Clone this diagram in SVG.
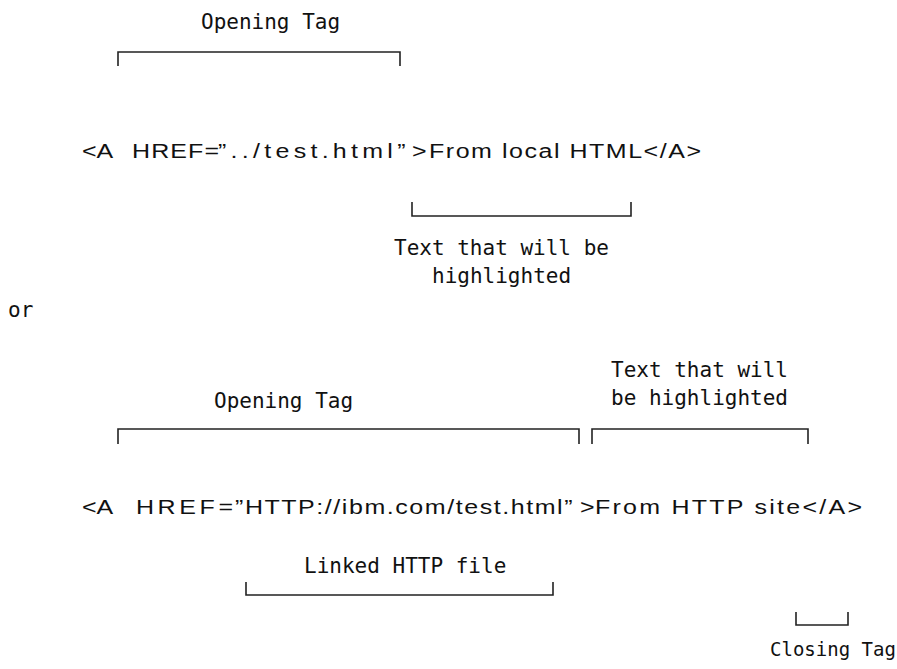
<svg xmlns="http://www.w3.org/2000/svg" width="897" height="669" viewBox="0 0 897 669">
<style>
.mono{font-family:"DejaVu Sans Mono","Liberation Mono",monospace;font-size:21px;fill:#111}
.code{font-family:"Liberation Sans",Arial,sans-serif;font-size:20px;fill:#111}
.br{fill:none;stroke:#222;stroke-width:1.6}
</style>
<rect width="897" height="669" fill="#fff"/>
<g id="connectors">
<path class="br" d="M118,66 V52 H400 V66"/>
<path class="br" d="M412,202 V216 H631 V202"/>
<path class="br" d="M118,444 V429 H579 V444"/>
<path class="br" d="M592,444 V429 H808 V444"/>
<path class="br" d="M246,582 V595 H553 V582"/>
<path class="br" d="M796,612 V625 H848 V612"/>
</g>
<g id="label-opening-tag-1"><text class="mono" x="201" y="29">Opening Tag</text></g>
<g id="code-line-1" transform="scale(1.25,1)">
<text class="code" x="65.6" y="158">&lt;A</text>
<text class="code" x="105.6" y="158" textLength="69.6" lengthAdjust="spacing">HREF=</text>
<text class="code" x="174.4" y="158" textLength="150" lengthAdjust="spacing">”../test.html”</text>
<text class="code" x="329.6" y="158" font-size="17">&gt;</text>
<text class="code" x="343.2" y="158" textLength="217.6" lengthAdjust="spacing">From local HTML&lt;/A&gt;</text>
</g>
<g id="label-highlight-1">
<text class="mono" x="394" y="255">Text that will be</text>
<text class="mono" x="432" y="283">highlighted</text>
</g>
<g id="label-or"><text class="mono" x="8" y="317">or</text></g>
<g id="label-opening-tag-2"><text class="mono" x="214" y="408">Opening Tag</text></g>
<g id="label-highlight-2">
<text class="mono" x="611" y="377">Text that will</text>
<text class="mono" x="611" y="405">be highlighted</text>
</g>
<g id="code-line-2" transform="scale(1.25,1)">
<text class="code" x="65.6" y="514">&lt;A</text>
<text class="code" x="108.8" y="514" textLength="77.6" lengthAdjust="spacing">HREF=</text>
<text class="code" x="188" y="514" textLength="270" lengthAdjust="spacing">”HTTP://ibm.com/test.html”</text>
<text class="code" x="464" y="514" font-size="17">&gt;</text>
<text class="code" x="476" y="514" textLength="213.6" lengthAdjust="spacing">From HTTP site&lt;/A&gt;</text>
</g>
<g id="label-linked-file"><text class="mono" x="304" y="573">Linked HTTP file</text></g>
<g id="label-closing-tag"><text class="mono" x="770" y="656" font-size="19" style="font-size:19px">Closing Tag</text></g>
</svg>
